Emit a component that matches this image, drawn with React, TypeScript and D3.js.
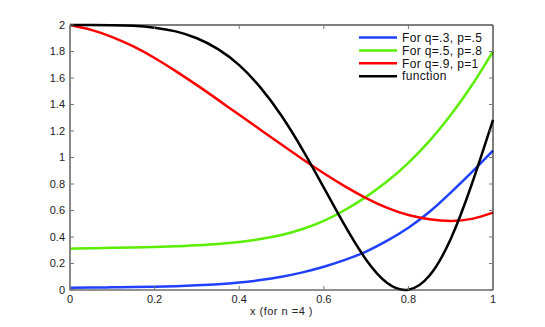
import * as d3 from "d3";
import React, { useRef, useEffect } from "react";

const xs = [0, 0.05, 0.1, 0.15, 0.2, 0.25, 0.3, 0.35, 0.4, 0.45, 0.5, 0.55, 0.6, 0.65, 0.7, 0.75, 0.8, 0.85, 0.9, 0.95, 1];

const blueVals = [0.017, 0.018, 0.02, 0.022, 0.025, 0.029, 0.035, 0.043, 0.056, 0.075, 0.1, 0.133, 0.175, 0.227, 0.29, 0.372, 0.47, 0.59, 0.735, 0.89, 1.052];
const greenVals = [0.312, 0.315, 0.318, 0.321, 0.325, 0.33, 0.338, 0.348, 0.363, 0.385, 0.415, 0.46, 0.522, 0.604, 0.703, 0.82, 0.96, 1.125, 1.32, 1.545, 1.8];
const redVals = [2.0, 1.963, 1.909, 1.838, 1.751, 1.652, 1.546, 1.435, 1.322, 1.21, 1.098, 0.987, 0.881, 0.782, 0.694, 0.62, 0.566, 0.534, 0.521, 0.537, 0.584];
const blackVals = [2.0, 2.0, 1.999, 1.994, 1.98, 1.952, 1.9, 1.818, 1.697, 1.529, 1.315, 1.058, 0.773, 0.485, 0.229, 0.053, 0.002, 0.109, 0.385, 0.8, 1.284];

const seriesNames = ["For q=.3, p=.5", "For q=.5, p=.8", "For q=.9, p=1", "function"];
const seriesColors = ["#2040ff", "#5aee00", "#ff0000", "#000000"];

const xTicks = [0, 0.2, 0.4, 0.6, 0.8, 1];
const yTicks = [0, 0.2, 0.4, 0.6, 0.8, 1, 1.2, 1.4, 1.6, 1.8, 2];

function Chart() {
    const svgRef = useRef<SVGSVGElement>(null);
    const width = 545;
    const height = 327;
    const marginLeft = 70;
    const marginRight = 52;
    const marginTop = 25;
    const marginBottom = 37;

    useEffect(() => {
        const svg = d3.select(svgRef.current);
        svg.selectAll("*").remove();

        const xScale = d3.scaleLinear().domain([0, 1]).range([marginLeft, width - marginRight]);
        const yScale = d3.scaleLinear().domain([0, 2]).range([height - marginBottom, marginTop]);
        const x0 = xScale(0), x1 = xScale(1), y0 = yScale(0), y1 = yScale(2);

        const font = "Liberation Sans, Arial, sans-serif";
        const allVals = [blueVals, greenVals, redVals, blackVals];

        // curves
        const line = d3.line<number>()
            .x((d, i) => xScale(xs[i]))
            .y(d => yScale(d))
            .curve(d3.curveNatural);

        allVals.forEach((vals, k) => {
            svg.append("path")
                .attr("d", line(vals))
                .attr("fill", "none")
                .attr("stroke", seriesColors[k])
                .attr("stroke-width", 2.5);
        });

        // box
        svg.append("line").attr("x1", x0).attr("x2", x1).attr("y1", y1).attr("y2", y1)
            .attr("stroke", "#000").attr("stroke-width", 1);
        svg.append("line").attr("x1", x1).attr("x2", x1).attr("y1", y1).attr("y2", y0)
            .attr("stroke", "#000").attr("stroke-width", 1);
        svg.append("line").attr("x1", x0).attr("x2", x1).attr("y1", y0).attr("y2", y0)
            .attr("stroke", "#222").attr("stroke-width", 1.2);
        svg.append("line").attr("x1", x0).attr("x2", x0).attr("y1", y1).attr("y2", y0 + 0.5)
            .attr("stroke", "#888").attr("stroke-width", 2);

        // ticks
        const tk = 4;
        yTicks.forEach(t => {
            svg.append("line").attr("x1", x0).attr("x2", x0 + tk).attr("y1", yScale(t)).attr("y2", yScale(t))
                .attr("stroke", "#777");
            svg.append("line").attr("x1", x1).attr("x2", x1 - tk).attr("y1", yScale(t)).attr("y2", yScale(t))
                .attr("stroke", "#777");
            svg.append("text")
                .text(d3.format("~g")(t))
                .attr("x", x0 - 5)
                .attr("y", yScale(t))
                .attr("dy", "0.35em")
                .attr("text-anchor", "end")
                .style("font-family", font)
                .style("font-size", "11px")
                .style("fill", "#222");
        });
        xTicks.forEach(t => {
            svg.append("line").attr("x1", xScale(t)).attr("x2", xScale(t)).attr("y1", y0).attr("y2", y0 - tk)
                .attr("stroke", "#777");
            svg.append("line").attr("x1", xScale(t)).attr("x2", xScale(t)).attr("y1", y1).attr("y2", y1 + tk)
                .attr("stroke", "#777");
            svg.append("text")
                .text(d3.format("~g")(t))
                .attr("x", xScale(t))
                .attr("y", 303)
                .attr("text-anchor", "middle")
                .style("font-family", font)
                .style("font-size", "11px")
                .style("fill", "#222");
        });

        svg.append("text")
            .text("x (for n =4 )")
            .attr("x", (x0 + x1) / 2)
            .attr("y", 315)
            .attr("text-anchor", "middle")
            .style("font-family", font)
            .style("font-size", "11px")
            .style("letter-spacing", "0.5px")
            .style("fill", "#222");

        // legend
        seriesNames.forEach((name, k) => {
            const ly = 37.5 + k * 12.9;
            svg.append("line")
                .attr("x1", 359).attr("x2", 397).attr("y1", ly).attr("y2", ly)
                .attr("stroke", seriesColors[k]).attr("stroke-width", 2.5);
            svg.append("text")
                .text(name)
                .attr("x", 402)
                .attr("y", ly)
                .attr("dy", "0.35em")
                .style("font-family", font)
                .style("font-size", "12px")
                .style("letter-spacing", "0.35px")
                .style("fill", "#111");
        });
    }, []);

    return (
        <svg ref={svgRef} width={width} height={height}
            style={{ position: "absolute", left: 0, top: 0, background: "#fff" }} />
    );
}

export default function App() {
    return <Chart />;
}
